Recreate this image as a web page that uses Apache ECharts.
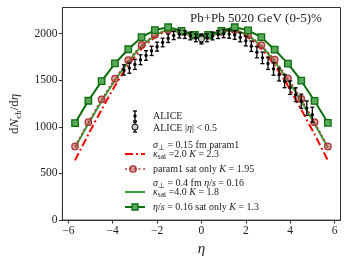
<!DOCTYPE html>
<html>
<head>
<meta charset="utf-8">
<script src="https://cdn.jsdelivr.net/npm/echarts@6/dist/echarts.min.js"></script>
<style>html,body{margin:0;padding:0;background:#fff}#c{width:349px;height:262px}</style>
</head>
<body>
<div id="c"></div>
<script>
// ---- data ----
const etaModel = [-5.7,-5.1,-4.5,-3.9,-3.3,-2.7,-2.1,-1.5,-0.9,-0.3,0.3,0.9,1.5,2.1,2.7,3.3,3.9,4.5,5.1,5.7];
const satOnlyEtaS = [1040,1280,1490,1680,1832,1962,2038,2068,2030,1985,1985,2030,2068,2035,1962,1828,1678,1495,1278,1043];
const param1SatOnly = [790,1050,1295,1517,1716,1878,1988,2040,2020,1978,1978,2020,2040,1988,1876,1720,1520,1299,1050,790];
const sigma04 = [775,1032,1275,1497,1697,1864,1976,2032,2015,1976,1976,2015,2032,1976,1864,1697,1497,1275,1032,775];
const sigma015 = [640,920,1185,1440,1660,1838,1960,2028,2015,1978,1978,2015,2028,1960,1838,1660,1440,1185,920,640];
const aliceEta = [-3.5,-3.25,-3.0,-2.75,-2.5,-2.25,-2.0,-1.75,-1.5,-1.25,-1.0,-0.75,-0.5,-0.25,0,0.25,0.5,0.75,1.0,1.25,1.5,1.75,2.0,2.25,2.5,2.75,3.0,3.25,3.5,3.75,4.0,4.25,4.5,4.75,5.0];
const aliceVal = [1610,1630,1670,1720,1765,1815,1860,1905,1950,1980,1995,1990,1975,1955,1945,1955,1975,1990,2000,1995,1985,1960,1920,1865,1800,1740,1680,1620,1560,1490,1420,1345,1275,1200,1130];
const aliceErr = [55,55,54,53,52,50,48,46,45,44,43,42,42,42,42,42,42,43,44,45,46,48,52,56,60,62,64,66,68,70,72,74,76,78,80];
const aliceMidEta = [0];
const aliceMidVal = [1943];
const aliceMidErr = [54];
const xTicks = [-6,-4,-2,0,2,4,6];
const yTicks = [0,500,1000,1500,2000];

const FONT = 'Liberation Serif';
const TXT = '#222';
const pair = (xs, ys) => xs.map((x,i)=>[x, ys[i]]);
const triple = (xs, ys, es) => xs.map((x,i)=>[x, ys[i], es[i]]);

function errRender(open){
  return function(params, api){
    const x = api.value(0), y = api.value(1), e = api.value(2);
    const p = api.coord([x,y]);
    const lo = api.coord([x,y-e]);
    const hi = api.coord([x,y+e]);
    const st = {stroke:'#000', lineWidth:1.3};
    const ch = [
      {type:'line', shape:{x1:p[0],y1:lo[1],x2:p[0],y2:hi[1]}, style:st},
      {type:'line', shape:{x1:p[0]-2,y1:lo[1],x2:p[0]+2,y2:lo[1]}, style:st},
      {type:'line', shape:{x1:p[0]-2,y1:hi[1],x2:p[0]+2,y2:hi[1]}, style:st}
    ];
    if(open) ch.push({type:'circle', shape:{cx:p[0],cy:p[1],r:3}, style:{fill:'#ccc',stroke:'#000',lineWidth:1}});
    else ch.push({type:'circle', shape:{cx:p[0],cy:p[1],r:1.7}, style:{fill:'#000'}});
    return {type:'group', children:ch};
  };
}

const FS = 10;
const rich = {
  i:{fontFamily:FONT, fontStyle:'italic', fontSize:FS, lineHeight:14, color:TXT},
  sub:{fontFamily:FONT, fontSize:7.5, lineHeight:14, verticalAlign:'bottom', color:TXT}
};
function legText(x, y, text){
  return {type:'text', x:x, y:y, silent:true, z:100, style:{text:text, fontFamily:FONT, fontSize:FS, lineHeight:14, fill:TXT, verticalAlign:'middle', align:'left', rich:rich}};
}
const LX1 = 125, LX2 = 145, LM = 135, TX = 153;
const graphic = [
  // ALICE
  {type:'line', shape:{x1:LM,y1:111,x2:LM,y2:121}, style:{stroke:'#000',lineWidth:1.3}},
  {type:'line', shape:{x1:LM-2,y1:111,x2:LM+2,y2:111}, style:{stroke:'#000',lineWidth:1.3}},
  {type:'line', shape:{x1:LM-2,y1:121,x2:LM+2,y2:121}, style:{stroke:'#000',lineWidth:1.3}},
  {type:'circle', shape:{cx:LM,cy:116,r:1.7}, style:{fill:'#000'}},
  legText(TX, 116, 'ALICE'),
  // ALICE |eta|<0.5
  {type:'line', shape:{x1:LM,y1:122,x2:LM,y2:132}, style:{stroke:'#000',lineWidth:1.3}},
  {type:'line', shape:{x1:LM-2,y1:122,x2:LM+2,y2:122}, style:{stroke:'#000',lineWidth:1.3}},
  {type:'line', shape:{x1:LM-2,y1:132,x2:LM+2,y2:132}, style:{stroke:'#000',lineWidth:1.3}},
  {type:'circle', shape:{cx:LM,cy:127,r:3}, style:{fill:'#ccc',stroke:'#000',lineWidth:1}},
  legText(TX, 128, 'ALICE |{i|η}| < 0.5'),
  // red dash-dot
  {type:'line', shape:{x1:LX1,y1:154,x2:LX2,y2:154}, style:{stroke:'#ff0000',lineWidth:2,lineDash:[8,3,2,3]}},
  legText(TX, 145, '{i|σ}{sub|⊥} = 0.15 fm param1'),
  legText(TX, 154, '{i|κ}{sub|sat} =2.0 {i|K} = 2.3'),
  // brown
  {type:'line', shape:{x1:LX1,y1:169,x2:LX2,y2:169}, style:{stroke:'#b03c3c',lineWidth:1.6,lineDash:[2,2.5]}},
  {type:'circle', shape:{cx:133,cy:169,r:3.2}, style:{fill:'rgba(190,80,80,0.55)',stroke:'#a83232',lineWidth:1.3}},
  legText(TX, 169, 'param1 sat only {i|K} = 1.95'),
  // green line
  {type:'line', shape:{x1:LX1,y1:192,x2:LX2,y2:192}, style:{stroke:'#33a333',lineWidth:2}},
  legText(TX, 183, '{i|σ}{sub|⊥} = 0.4 fm {i|η}/{i|s} = 0.16'),
  legText(TX, 192, '{i|κ}{sub|sat} =4.0 {i|K} = 1.8'),
  // green squares
  {type:'line', shape:{x1:LX1,y1:207,x2:LX2,y2:207}, style:{stroke:'#0c6e0c',lineWidth:2}},
  {type:'rect', shape:{x:LM-3,y:204,width:6,height:6}, style:{fill:'#5aa85a',stroke:'#0c6e0c',lineWidth:1.3}},
  legText(TX, 207, '{i|η}/{i|s} = 0.16 sat only {i|K} = 1.3'),
  // title
  {type:'text', x:190, y:19, silent:true, style:{text:'Pb+Pb 5020 GeV (0-5)%', fontFamily:FONT, fontSize:13, fill:TXT, verticalAlign:'middle', align:'left'}}
];

const chart = echarts.init(document.getElementById('c'), null, {renderer:'canvas'});
chart.setOption({
  animation:false,
  backgroundColor:'#fff',
  grid:{left:55, right:8.5, top:7.5, bottom:41.5, show:true, borderColor:'#333', borderWidth:1, backgroundColor:'transparent'},
  xAxis:{
    type:'value', min:-6.27, max:6.27,
    name:'η', nameLocation:'middle', nameGap:17,
    nameTextStyle:{fontFamily:FONT, fontStyle:'italic', fontSize:15, color:TXT},
    axisLine:{show:true, onZero:false, lineStyle:{color:'#333', width:1}},
    axisTick:{show:true, inside:false, length:3.5, customValues:xTicks, lineStyle:{color:'#333'}},
    axisLabel:{customValues:xTicks, fontFamily:FONT, fontSize:11.5, color:TXT, margin:5,
      formatter:v=>String(v).replace('-', '\u2212')},
    splitLine:{show:false}
  },
  yAxis:{
    type:'value', min:0, max:2280,
    name:'{r|d}{i|N}{s|ch}{r|/d}{i|η}', nameLocation:'middle', nameGap:38, nameRotate:90,
    nameTextStyle:{fontFamily:FONT, fontSize:13, color:TXT,
      rich:{r:{fontFamily:FONT,fontSize:13,color:TXT,lineHeight:18},
            i:{fontFamily:FONT,fontStyle:'italic',fontSize:13,color:TXT,lineHeight:18},
            s:{fontFamily:FONT,fontSize:9,color:TXT,lineHeight:18,verticalAlign:'bottom'}}},
    axisLine:{show:true, onZero:false, lineStyle:{color:'#333', width:1}},
    axisTick:{show:true, inside:false, length:3.5, customValues:yTicks, lineStyle:{color:'#333'}},
    axisLabel:{customValues:yTicks, fontFamily:FONT, fontSize:11.5, color:TXT, margin:5,
      formatter:v=>String(v)},
    splitLine:{show:false}
  },
  graphic: graphic,
  series:[
    {type:'line', name:'sigma015', data:pair(etaModel, sigma015), showSymbol:false, symbol:'none', smooth:0.25, z:2,
      lineStyle:{color:'#ff0000', width:2, type:[8,3,2,3]}},
    {type:'line', name:'sigma04', data:pair(etaModel, sigma04), showSymbol:false, symbol:'none', smooth:0.25, z:3,
      lineStyle:{color:'#33a333', width:2}},
    {type:'line', name:'param1', data:pair(etaModel, param1SatOnly), symbol:'circle', symbolSize:6.5, z:4,
      lineStyle:{color:'#b03c3c', width:1.6, type:[2,2.5]},
      itemStyle:{color:'rgba(190,80,80,0.55)', borderColor:'#a83232', borderWidth:1.3}},
    {type:'line', name:'satonly', data:pair(etaModel, satOnlyEtaS), symbol:'rect', symbolSize:6.5, z:5,
      lineStyle:{color:'#0c6e0c', width:2},
      itemStyle:{color:'#5aa85a', borderColor:'#0c6e0c', borderWidth:1.3}},
    {type:'custom', name:'ALICE', data:triple(aliceEta, aliceVal, aliceErr), renderItem:errRender(false), z:6,
      encode:{x:0, y:1}},
    {type:'custom', name:'ALICEmid', data:triple(aliceMidEta, aliceMidVal, aliceMidErr), renderItem:errRender(true), z:7,
      encode:{x:0, y:1}}
  ]
});
</script>
</body>
</html>
